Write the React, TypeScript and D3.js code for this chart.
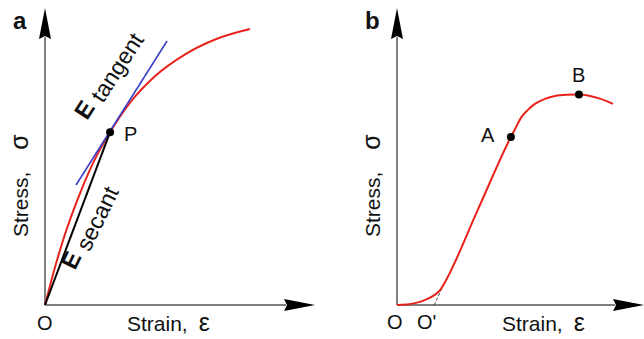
import React from "react";
import * as d3 from "d3";

// Panel a: stress-strain curve (arbitrary units)
const strainA = [0, 0.37, 0.74, 1.3, 1.85, 2.41, 3.15, 4.07, 5.19, 6.3, 7.59];
const stressA = [0, 1.27, 2.38, 3.77, 4.91, 5.82, 6.81, 7.7, 8.44, 8.94, 9.29];
const pointP = [2.41, 5.82];
const tangentStrain = [1.15, 4.52];
const tangentStress = [4.04, 8.89];

// Panel b: stress-strain curve with toe region
const strainB = [0, 0.37, 0.74, 1.11, 1.41, 1.59, 1.74, 2.98, 4.22, 4.41, 4.59, 4.85, 5.11, 5.48, 5.85, 6.3, 6.74, 7.15, 7.52, 8.0];
const stressB = [0, 0.02, 0.08, 0.2, 0.35, 0.49, 0.71, 3.18, 5.66, 5.99, 6.3, 6.57, 6.77, 6.94, 7.04, 7.08, 7.09, 7.04, 6.95, 6.77];
const pointA = [4.22, 5.66];
const pointB = [6.74, 7.09];
const toeStrain = [1.38, 1.76];
const toeStress = [0, 0.76];

const FONT = "'Liberation Sans', Arial, Helvetica, sans-serif";
const RED = "#e8231c";
const BLUE = "#3b3fc4";
const AXIS = "#555";

function zip(xs: number[], ys: number[]): [number, number][] {
  return xs.map((x, i) => [x, ys[i]] as [number, number]);
}

function Axes({ x, y }: { x: d3.ScaleLinear<number, number>; y: d3.ScaleLinear<number, number> }) {
  const x0 = x(0), y0 = y(0);
  const xEnd = x.range()[1];
  const yEnd = y.range()[1];
  const aLen = 31, aHalf = 6;
  return (
    <g>
      <line x1={x0} y1={y0} x2={xEnd - aLen + 2} y2={y0} stroke={AXIS} strokeWidth={1.5} />
      <line x1={x0} y1={y0} x2={x0} y2={yEnd + aLen - 2} stroke={AXIS} strokeWidth={1.5} />
      <path d={`M${xEnd},${y0} L${xEnd - aLen},${y0 - aHalf} L${xEnd - aLen + 3},${y0} L${xEnd - aLen},${y0 + aHalf} Z`} fill="#000" />
      <path d={`M${x0},${yEnd} L${x0 - aHalf},${yEnd + aLen} L${x0},${yEnd + aLen - 3} L${x0 + aHalf},${yEnd + aLen} Z`} fill="#000" />
    </g>
  );
}

export default function App() {
  const xA = d3.scaleLinear().domain([0, 10]).range([45, 315]);
  const yA = d3.scaleLinear().domain([0, 10]).range([305, 8]);
  const xB = d3.scaleLinear().domain([0, 9.15]).range([397, 644]);
  const yB = d3.scaleLinear().domain([0, 10]).range([305, 8]);

  const lineA = d3.line<[number, number]>().x(d => xA(d[0])).y(d => yA(d[1])).curve(d3.curveMonotoneX);
  const lineB = d3.line<[number, number]>().x(d => xB(d[0])).y(d => yB(d[1])).curve(d3.curveMonotoneX);
  const straightA = d3.line<[number, number]>().x(d => xA(d[0])).y(d => yA(d[1]));
  const straightB = d3.line<[number, number]>().x(d => xB(d[0])).y(d => yB(d[1]));

  const txt = { fontFamily: FONT, fill: "#111" } as const;

  return (
    <svg width={644} height={339} style={{ position: "absolute", left: 0, top: 0, background: "#fff" }}>
      {/* Panel a */}
      <Axes x={xA} y={yA} />
      <path d={lineA(zip(strainA, stressA)) || ""} fill="none" stroke={RED} strokeWidth={2} />
      <path d={straightA(zip(tangentStrain, tangentStress)) || ""} fill="none" stroke={BLUE} strokeWidth={1.6} />
      <path d={straightA([[0, 0], [pointP[0], pointP[1]]]) || ""} fill="none" stroke="#000" strokeWidth={2} />
      <circle cx={xA(pointP[0])} cy={yA(pointP[1])} r={4} fill="#000" />
      <text x={13} y={29} fontSize={24} fontWeight="bold" {...txt}>a</text>
      <text x={124} y={141} fontSize={20} {...txt}>P</text>
      <text x={37} y={330} fontSize={20} {...txt}>O</text>
      <text x={127} y={331} fontSize={21} {...txt}>Strain,<tspan dx={11} fontSize={25}>ε</tspan></text>
      <text transform="translate(28,237) rotate(-90)" fontSize={21} {...txt}>Stress,<tspan dx={22} fontSize={25}>σ</tspan></text>
      <text transform="translate(87,121) rotate(-57)" fontSize={23} {...txt}>
        <tspan fontWeight="bold" fontSize={24}>E</tspan><tspan dx={7} dy={4}>tangent</tspan>
      </text>
      <text transform="translate(75,271) rotate(-64)" fontSize={23} {...txt}>
        <tspan fontWeight="bold" fontSize={24}>E</tspan><tspan dx={7} dy={5}>secant</tspan>
      </text>

      {/* Panel b */}
      <Axes x={xB} y={yB} />
      <path d={straightB(zip(toeStrain, toeStress)) || ""} fill="none" stroke="#333" strokeWidth={0.9} strokeDasharray="3,2" />
      <path d={lineB(zip(strainB, stressB)) || ""} fill="none" stroke={RED} strokeWidth={2} />
      <circle cx={xB(pointA[0])} cy={yB(pointA[1])} r={4} fill="#000" />
      <circle cx={xB(pointB[0])} cy={yB(pointB[1])} r={4} fill="#000" />
      <text x={365} y={29} fontSize={24} fontWeight="bold" {...txt}>b</text>
      <text x={481} y={142} fontSize={20} {...txt}>A</text>
      <text x={572} y={82} fontSize={20} {...txt}>B</text>
      <text x={387} y={329} fontSize={20} {...txt}>O</text>
      <text x={417} y={329} fontSize={20} {...txt}>O'</text>
      <text x={502} y={331} fontSize={21} {...txt}>Strain,<tspan dx={11} fontSize={25}>ε</tspan></text>
      <text transform="translate(380,237) rotate(-90)" fontSize={21} {...txt}>Stress,<tspan dx={22} fontSize={25}>σ</tspan></text>
    </svg>
  );
}
